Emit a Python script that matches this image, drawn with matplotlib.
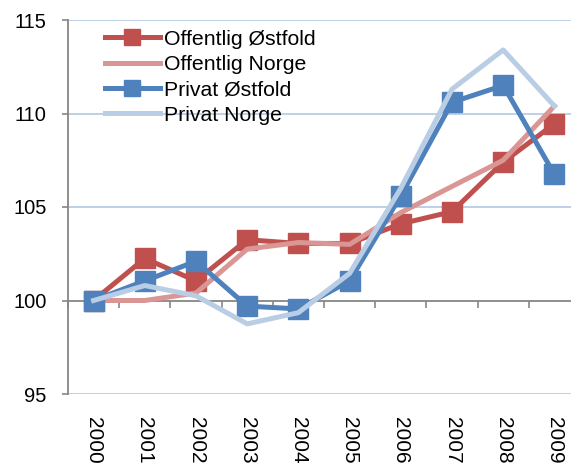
import numpy as np
import matplotlib
matplotlib.use("Agg")
import matplotlib.pyplot as plt

plt.rcParams["font.family"] = ["Liberation Sans", "DejaVu Sans"]

years = ["2000", "2001", "2002", "2003", "2004", "2005", "2006", "2007", "2008", "2009"]
off_ostfold = [100.0, 102.25, 101.05, 103.25, 103.05, 103.05, 104.1, 104.75, 107.4, 109.45]
off_norge = [100.0, 100.0, 100.4, 102.75, 103.1, 103.0, 104.7, 106.1, 107.5, 110.4]
priv_ostfold = [100.0, 101.05, 102.1, 99.7, 99.55, 101.05, 105.6, 110.6, 111.5, 106.75]
priv_norge = [100.0, 100.8, 100.25, 98.75, 99.35, 101.45, 106.0, 111.3, 113.4, 110.4]

C_RED, C_PINK = "#C0504D", "#DA9694"
C_BLUE, C_LBLUE = "#4F81BD", "#B9CDE5"
GRID = "#B9CDE5"
AXIS = "#868686"

fig = plt.figure(figsize=(5.71, 4.63), dpi=100)
ax = fig.add_axes([68 / 571, 69 / 463, 512 / 571, 374 / 463])

x = np.arange(len(years))
ax.plot(x, off_ostfold, color=C_RED, lw=3.6, marker="s", ms=14, mec=C_RED,
        label="Offentlig Østfold", zorder=3)
ax.plot(x, off_norge, color=C_PINK, lw=3.6, label="Offentlig Norge", zorder=4)
ax.plot(x, priv_ostfold, color=C_BLUE, lw=3.6, marker="s", ms=14, mec=C_BLUE,
        label="Privat Østfold", zorder=5)
ax.plot(x, priv_norge, color=C_LBLUE, lw=3.6, label="Privat Norge", zorder=6)

ax.set_xlim(-0.5, 9.5)
ax.set_ylim(95, 115)

# gridlines (light blue), the x axis itself sits at 100
for yv in (95, 105, 110, 115):
    ax.axhline(yv, color=GRID, lw=1.3, zorder=1)

for s in ("top", "right"):
    ax.spines[s].set_visible(False)
ax.spines["left"].set_color(AXIS)
ax.spines["left"].set_linewidth(1.3)
ax.spines["bottom"].set_position(("data", 100))
ax.spines["bottom"].set_color(AXIS)
ax.spines["bottom"].set_linewidth(1.3)
ax.spines["bottom"].set_zorder(2)

ax.set_yticks([95, 100, 105, 110, 115])
ax.tick_params(axis="y", direction="out", length=4.5, width=1.2, color=AXIS,
               labelsize=14.5, pad=11)
ax.set_xticks(np.arange(-0.5, 10, 1.0))
ax.set_xticklabels([])
ax.tick_params(axis="x", direction="out", length=5, width=1.2, color=AXIS)

for i, yr in enumerate(years):
    ax.text(i, -0.062, yr, transform=ax.get_xaxis_transform(), rotation=-90,
            ha="center", va="top", fontsize=15)

leg = ax.legend(loc="upper left", bbox_to_anchor=(0.055, 0.997), frameon=False,
                fontsize=15.3, handlelength=2.6, handletextpad=0.2,
                labelspacing=0.3, borderaxespad=0.0, markerscale=0.8)

fig.savefig("out.png", dpi=100)
